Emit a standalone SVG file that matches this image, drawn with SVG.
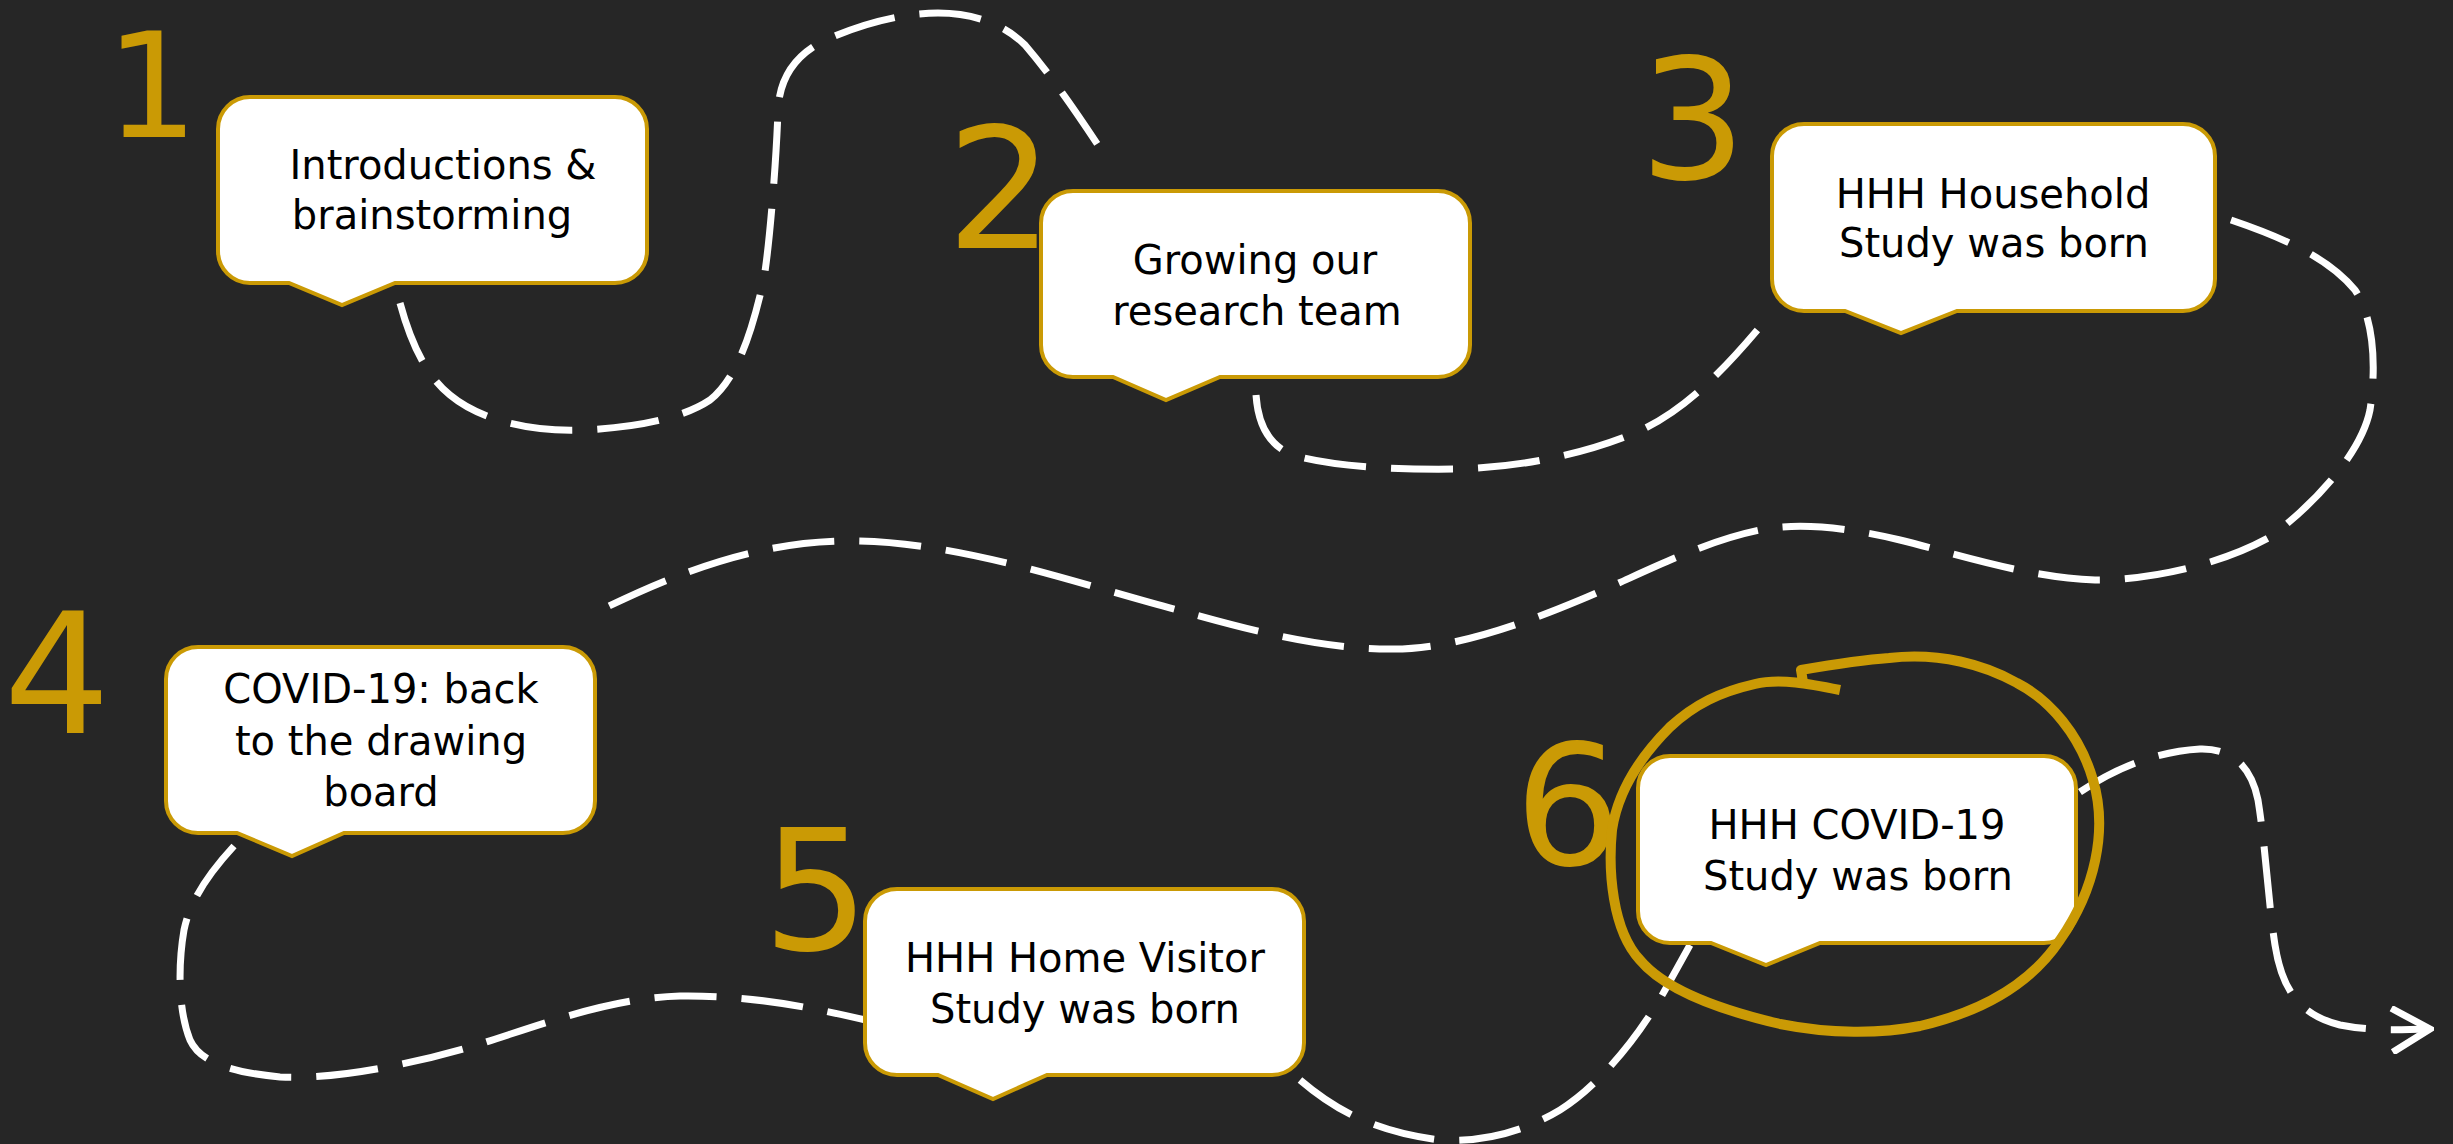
<svg xmlns="http://www.w3.org/2000/svg" width="2453" height="1144" viewBox="0 0 2453 1144">
<style>
.bg{fill:#262626}
.dash{fill:none;stroke:#ffffff;stroke-width:7;stroke-dasharray:62 25;stroke-linecap:butt}
.bubble{fill:#ffffff;stroke:#CA9A05;stroke-width:4;stroke-linejoin:miter}
.lbl{font-family:"DejaVu Sans","Liberation Sans",sans-serif;font-size:40px;fill:#000000;text-anchor:middle}
.num{font-family:"DejaVu Sans","Liberation Sans",sans-serif;font-size:168px;fill:#CA9A05;text-anchor:middle}
.ring{fill:none;stroke:#CA9A05;stroke-width:10;stroke-linecap:butt;stroke-linejoin:round}
</style>
<defs>
<marker id="arrow" markerUnits="userSpaceOnUse" viewBox="0 0 44 48" refX="40" refY="24" markerWidth="44" markerHeight="48" orient="auto">
<path d="M2,2 L40,24 L2,46" fill="none" stroke="#ffffff" stroke-width="7" stroke-dasharray="none"/>
</marker>
</defs>
<rect class="bg" x="0" y="0" width="2453" height="1144"/>
<g id="connectors">
<path class="dash" d="M400,303 C410,340 425,375 450,395 C480,420 530,432 582,430 C630,428 680,420 710,400 C735,380 750,340 763,283 C768,260 776,170 778,110 C779,85 790,55 830,38 C860,25 900,13 938,13 C975,13 1005,25 1025,45 C1055,80 1085,125 1109,162"/>
<path class="dash" d="M1256,395 C1258,425 1270,450 1300,457 C1340,467 1400,470 1460,469 C1520,467 1580,455 1630,435 C1680,415 1720,375 1765,321"/>
<path class="dash" d="M2231,220 C2290,240 2330,260 2355,290 C2375,320 2376,370 2370,410 C2362,450 2320,500 2270,537 C2220,565 2150,580 2095,580 C2030,578 1960,555 1900,540 C1850,528 1800,522 1760,530 C1700,542 1640,575 1580,600 C1520,625 1450,650 1390,649 C1320,649 1250,630 1185,612 C1080,585 960,540 845,541 C760,542 680,570 591,615"/>
<path class="dash" d="M234,846 C210,872 190,900 184,930 C178,965 178,1010 190,1040 C200,1062 230,1072 280,1077 C340,1080 420,1062 480,1044 C540,1025 610,998 680,996 C750,995 810,1007 870,1021"/>
<path class="dash" d="M1300,1080 C1335,1110 1375,1132 1440,1140 C1490,1143 1530,1128 1560,1110 C1600,1085 1640,1035 1665,990 L1690,945"/>
<path class="dash" marker-end="url(#arrow)" d="M2080,792 C2110,772 2150,752 2200,749 C2235,748 2252,770 2258,800 C2266,850 2268,900 2275,945 C2282,990 2300,1015 2340,1025 C2370,1031 2400,1030 2430,1029"/>
</g>
<g id="node1">
<text class="num" x="152" y="137" style="font-size:146px">1</text>
<path class="bubble" d="M250,97 H615 A32,32 0 0 1 647,129 V251 A32,32 0 0 1 615,283 H395 L342,305 L289,283 H250 A32,32 0 0 1 218,251 V129 A32,32 0 0 1 250,97 Z"/>
<text class="lbl" x="443" y="179">Introductions &amp;</text>
<text class="lbl" x="432" y="229">brainstorming</text>
</g>
<g id="node2">
<text class="num" x="1000" y="248">2</text>
<path class="bubble" d="M1073,191 H1438 A32,32 0 0 1 1470,223 V345 A32,32 0 0 1 1438,377 H1220 L1166,400 L1113,377 H1073 A32,32 0 0 1 1041,345 V223 A32,32 0 0 1 1073,191 Z"/>
<text class="lbl" x="1255" y="274">Growing our</text>
<text class="lbl" x="1257" y="325">research team</text>
</g>
<g id="node3">
<text class="num" x="1693" y="179">3</text>
<path class="bubble" d="M1804,124 H2183 A32,32 0 0 1 2215,156 V279 A32,32 0 0 1 2183,311 H1957 L1901,333 L1845,311 H1804 A32,32 0 0 1 1772,279 V156 A32,32 0 0 1 1804,124 Z"/>
<text class="lbl" x="1993" y="208">HHH Household</text>
<text class="lbl" x="1994" y="257">Study was born</text>
</g>
<g id="node4">
<text class="num" x="57" y="733">4</text>
<path class="bubble" d="M198,647 H563 A32,32 0 0 1 595,679 V801 A32,32 0 0 1 563,833 H344 L292,856 L237,833 H198 A32,32 0 0 1 166,801 V679 A32,32 0 0 1 198,647 Z"/>
<text class="lbl" x="381" y="703">COVID-19: back</text>
<text class="lbl" x="381" y="755">to the drawing</text>
<text class="lbl" x="381" y="806">board</text>
</g>
<g id="node5">
<text class="num" x="816" y="950">5</text>
<path class="bubble" d="M897,889 H1272 A32,32 0 0 1 1304,921 V1043 A32,32 0 0 1 1272,1075 H1047 L993,1099 L938,1075 H897 A32,32 0 0 1 865,1043 V921 A32,32 0 0 1 897,889 Z"/>
<text class="lbl" x="1085" y="972">HHH Home Visitor</text>
<text class="lbl" x="1085" y="1023">Study was born</text>
</g>
<g id="node6">
<text class="num" x="1568" y="865">6</text>
<path class="bubble" d="M1670,756 H2044 A32,32 0 0 1 2076,788 V911 A32,32 0 0 1 2044,943 H1820 L1766,965 L1711,943 H1670 A32,32 0 0 1 1638,911 V788 A32,32 0 0 1 1670,756 Z"/>
<text class="lbl" x="1857" y="839">HHH COVID-19</text>
<text class="lbl" x="1858" y="890">Study was born</text>
<path class="ring" d="M1840,690 C1810,684 1780,678 1755,684 C1720,692 1695,704 1670,727 C1640,757 1618,790 1612,830 C1608,870 1612,930 1640,960 C1665,990 1720,1010 1780,1024 C1830,1034 1880,1034 1920,1026 C1980,1012 2030,985 2060,940 C2095,890 2108,830 2093,780 C2080,735 2050,700 2017,683 C1985,665 1940,652 1889,658 C1860,660 1830,665 1801,670 L1803,682"/>
</g>
</svg>
